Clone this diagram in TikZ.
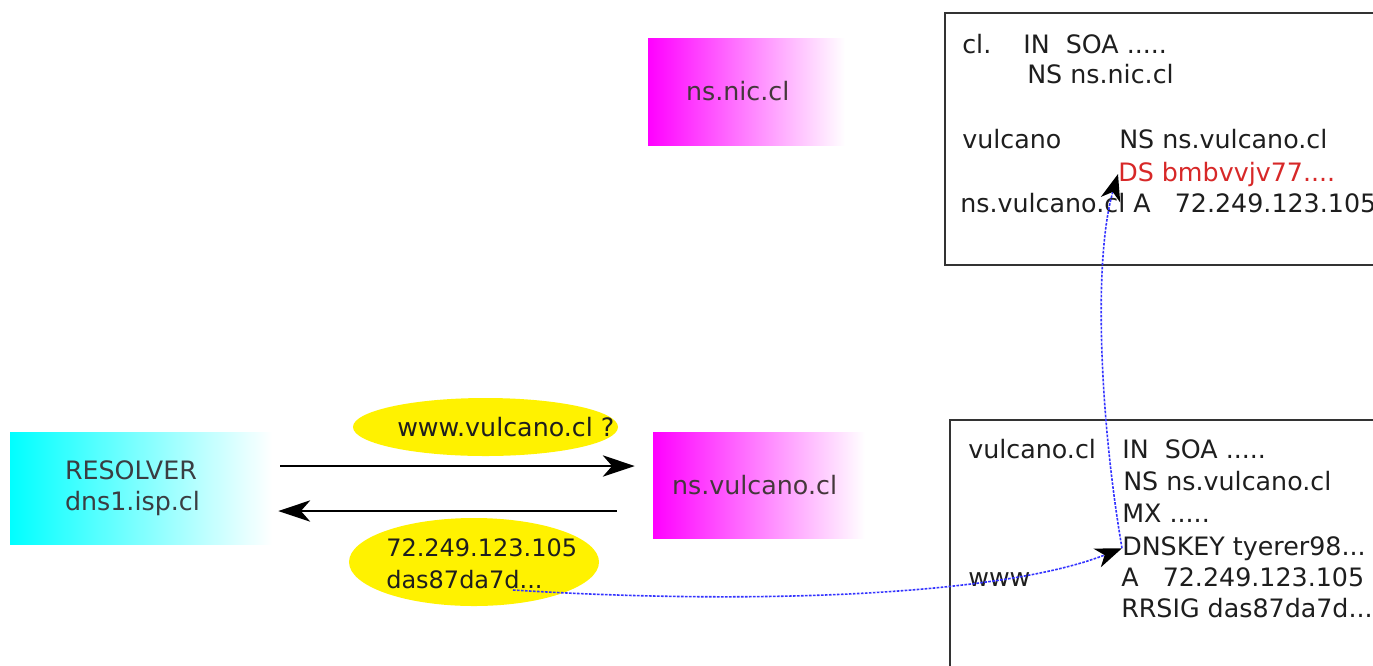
\documentclass[tikz,border=0pt]{standalone}
\usepackage{fontspec}
\setmainfont{DejaVu Sans}
\usetikzlibrary{arrows.meta,shapes.geometric}
\definecolor{dsred}{RGB}{215,40,40}
\definecolor{txtc}{RGB}{30,30,30}
\begin{document}
\begin{tikzpicture}[x=0.75pt,y=-0.75pt,
  txt/.style={anchor=base west,inner sep=0pt,font=\fontsize{19}{22}\selectfont,text=txtc},
  smalltxt/.style={txt,font=\fontsize{18}{22}\selectfont},
  zone/.style={draw=black!80,line width=1.1pt},
  srvbox/.style={draw=none,left color=magenta,right color=white,inner ysep=0pt,align=left,
     font=\fontsize{19}{22}\selectfont,text=black!85!magenta},
  resbox/.style={draw=none,left color=cyan,right color=white,inner ysep=0pt,align=left,
     font=\fontsize{19}{23.5}\selectfont,text=black!85!cyan},
  bubble/.style={ellipse,fill=yellow,draw=none,inner sep=0pt},
  msg/.style={black,line width=1.1pt,-{Stealth[length=24pt,width=16pt,inset=7pt]}},
  sig/.style={blue!80,line width=1.2pt,dash pattern=on 2pt off 1pt,
     -{Stealth[length=20pt,width=15pt,inset=6pt,black]}}
]
\useasboundingbox (0,0) rectangle (1373,665);

% zone boxes
\draw[zone] (945,13) rectangle (1420,265);
\draw[zone] (950,420) rectangle (1420,720);

% servers
\node[resbox,minimum height=84pt,inner xsep=41.25pt,text width=114pt] (res) at (141,488) {RESOLVER\\dns1.isp.cl};
\node[srvbox,minimum height=80.25pt,inner xsep=28.5pt,text width=90.75pt] (nic) at (746.5,91.5) {ns.nic.cl};
\node[srvbox,minimum height=79.5pt,inner xsep=14.25pt,text width=130.5pt] (nsv) at (759,485) {ns.vulcano.cl};

% bubbles
\node[bubble,minimum width=198.75pt,minimum height=43.5pt] (q) at (485.5,427) {};
\node[txt] (qt) at (397,436) {www.vulcano.cl ?};
\node[bubble,minimum width=187.5pt,minimum height=66pt] (r) at (474,562) {};
\node[smalltxt] (ip) at (386,556) {72.249.123.105};
\node[smalltxt] (das) at (386,588) {das87da7d...};

% top zone (cl.)
\node[txt] (t1a) at (962,53) {cl.};
\node[txt] (t1b) at (1023,53) {IN\ \ SOA .....};
\node[txt] (t2) at (1027,83) {NS ns.nic.cl};
\node[txt] (t3a) at (962,148) {vulcano};
\node[txt] (t3b) at (1119,148) {NS ns.vulcano.cl};
\node[txt,text=dsred] (ds) at (1118,181) {DS bmbvvjv77....};
\node[txt] (t5) at (960,212) {ns.vulcano.cl A\ \ \ 72.249.123.105};

% bottom zone (vulcano.cl)
\node[txt] (b1a) at (968,458) {vulcano.cl};
\node[txt] (b1b) at (1122,458) {IN\ \ SOA .....};
\node[txt] (b2) at (1123,490) {NS ns.vulcano.cl};
\node[txt] (b3) at (1122,522) {MX .....};
\node[txt] (dnskey) at (1122,555) {DNSKEY tyerer98...};
\node[txt] (b5a) at (968,586) {www};
\node[txt] (b5b) at (1121,586) {A\ \ \ 72.249.123.105};
\node[txt] (b6) at (1121,617) {RRSIG das87da7d...};

% query / answer
\draw[msg] ([shift={(8,-22)}]res.east) -- ([shift={(-18,-19)}]nsv.west);
\draw[msg] ([shift={(-36,26)}]nsv.west) -- ([shift={(6,23)}]res.east);

% signature chain
\coordinate (sigstart) at (513,590);
\draw[sig] (sigstart) .. controls (750,605) and (1000,596) .. (dnskey.west);
\draw[sig] (dnskey.west) .. controls (1100,420) and (1093,260) .. (ds.west);
\end{tikzpicture}
\end{document}
